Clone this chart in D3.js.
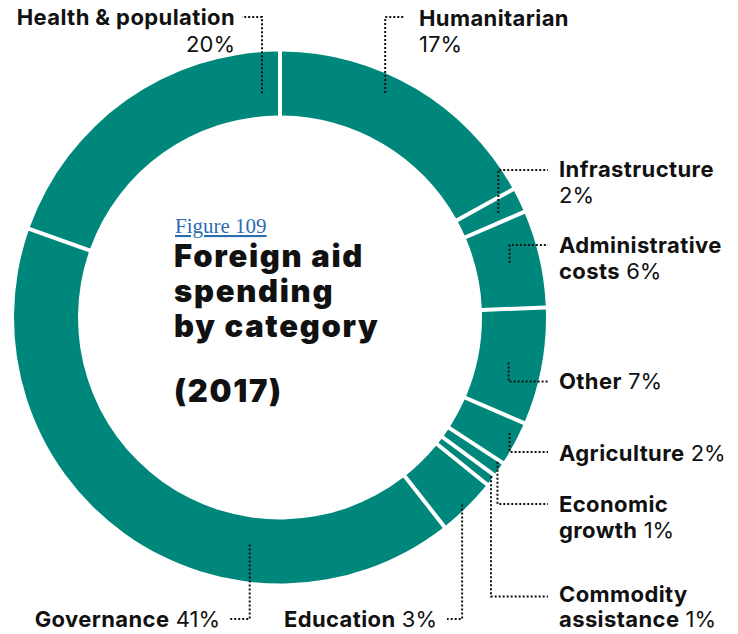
<!DOCTYPE html>
<html>
<head>
<meta charset="utf-8">
<script src="https://cdn.jsdelivr.net/npm/d3@7"></script>
<style>
  html, body { margin: 0; padding: 0; background: #fff; }
  svg { display: block; }
  text { font-family: Inter, Lato, "Noto Sans", sans-serif; fill: #111; }
</style>
</head>
<body>
<svg id="chart"></svg>
<script>
const width = 738, height = 634;
const cx = 280, cy = 317.5;
const outerRadius = 266, innerRadius = 202;

// Slices clockwise from 12 o'clock
const categories = ["Humanitarian", "Infrastructure", "Administrative costs", "Other", "Agriculture",
    "Economic growth", "Commodity assistance", "Education", "Governance", "Health & population"];
// shares (percent)
const shares = [17.0, 1.5, 5.9, 7.1, 2.7, 0.9, 0.7, 3.6, 41.0, 19.6];
// percentages as printed on the chart
const shareLabels = ["17%", "2%", "6%", "7%", "2%", "1%", "1%", "3%", "41%", "20%"];

// Where each label sits; t = position inside slice, r = radius of leader start
// lines: each line is a list of [text, bold]; "%" is replaced with the share label
const labelLayout = [
    { t: 0.41, r: 248, elbowY: 17, endX: 405, textX: 419, anchor: "start", baselines: [26, 52],
      lines: [[["Humanitarian", true]], [["%", false]]] },
    { t: 0.6, r: 242, elbowY: 170, endX: 548, textX: 559, anchor: "start", baselines: [177, 203],
      lines: [[["Infrastructure", true]], [["%", false]]] },
    { t: 0.47, r: 236, elbowY: 245, endX: 548, textX: 559, anchor: "start", baselines: [253, 279],
      lines: [[["Administrative", true]], [["costs", true], [" %", false]]] },
    { t: 0.52, r: 233, elbowY: 381.5, endX: 548, textX: 559, anchor: "start", baselines: [389],
      lines: [[["Other", true], [" %", false]]] },
    { t: 0.34, r: 257, elbowY: 452, endX: 548, textX: 559, anchor: "start", baselines: [461],
      lines: [[["Agriculture", true], [" %", false]]] },
    { t: 0.14, r: 261, elbowY: 504, endX: 548, textX: 559, anchor: "start", baselines: [512, 538],
      lines: [[["Economic", true]], [["growth", true], [" %", false]]] },
    { t: 0.23, r: 264, elbowY: 596.5, endX: 548, textX: 559, anchor: "start", baselines: [602, 627],
      lines: [[["Commodity", true]], [["assistance", true], [" %", false]]] },
    { t: 0.53, r: 261, elbowY: 619, endX: 447, textX: 437, anchor: "end", baselines: [627],
      lines: [[["Education", true], [" %", false]]] },
    { t: 0.31, r: 229, elbowY: 619, endX: 230, textX: 220, anchor: "end", baselines: [627],
      lines: [[["Governance", true], [" %", false]]] },
    { t: 0.935, r: 225, elbowY: 17, endX: 242, textX: 235, anchor: "end", baselines: [25, 52],
      lines: [[["Health & population", true]], [["%", false]]] }
];

const titleLines = ["Foreign aid", "spending", "by category"];

const svg = d3.select("#chart")
    .attr("width", width)
    .attr("height", height)
    .attr("viewBox", [0, 0, width, height]);

const g = svg.append("g")
    .attr("transform", `translate(${cx},${cy})`);

const pie = d3.pie()
    .sort(null)
    .value(d => d);

const arc = d3.arc()
    .innerRadius(innerRadius)
    .outerRadius(outerRadius)
    .padRadius(outerRadius)
    .padAngle(4 / outerRadius);

const arcs = pie(shares);

g.selectAll("path.slice")
    .data(arcs)
    .enter()
    .append("path")
    .attr("class", "slice")
    .attr("d", arc)
    .attr("fill", "#00877b");

// Leader lines and labels
const labels = svg.append("g").attr("class", "labels");

arcs.forEach((a, i) => {
    const L = labelLayout[i];
    const ang = a.startAngle + L.t * (a.endAngle - a.startAngle);
    const ax = cx + L.r * Math.sin(ang);
    const ay = cy - L.r * Math.cos(ang);

    labels.append("path")
        .attr("d", `M${ax},${ay}V${L.elbowY}H${L.endX}`)
        .attr("fill", "none")
        .attr("stroke", "#111")
        .attr("stroke-width", 2)
        .attr("stroke-dasharray", "2,2");

    L.lines.forEach((line, j) => {
        const text = labels.append("text")
            .attr("x", L.textX)
            .attr("y", L.baselines[j])
            .attr("text-anchor", L.anchor)
            .style("font-size", "22px");
        line.forEach(([s, bold]) => {
            text.append("tspan")
                .attr("font-weight", bold ? 700 : 400)
                .style("letter-spacing", bold ? "0.4px" : "0px")
                .text(s.replace("%", shareLabels[i]));
        });
    });
});

// Title in the middle of the ring
const title = svg.append("g").attr("class", "title");

title.append("text")
    .attr("x", 175)
    .attr("y", 233)
    .style("font-family", "'Liberation Serif', 'DejaVu Serif', serif")
    .style("font-size", "21px")
    .style("fill", "#2b6cb0")
    .style("text-decoration", "underline")
    .text("Figure 109");

title.selectAll("text.head")
    .data(titleLines)
    .enter()
    .append("text")
    .attr("class", "head")
    .attr("x", 174)
    .attr("y", (d, i) => 267 + i * 35)
    .style("font-size", "31px")
    .style("font-weight", 900)
    .style("letter-spacing", "1.7px")
    .text(d => d);

title.append("text")
    .attr("x", 174)
    .attr("y", 402)
    .style("font-size", "31px")
    .style("font-weight", 900)
    .style("letter-spacing", "1.7px")
    .text("(2017)");
</script>
</body>
</html>
